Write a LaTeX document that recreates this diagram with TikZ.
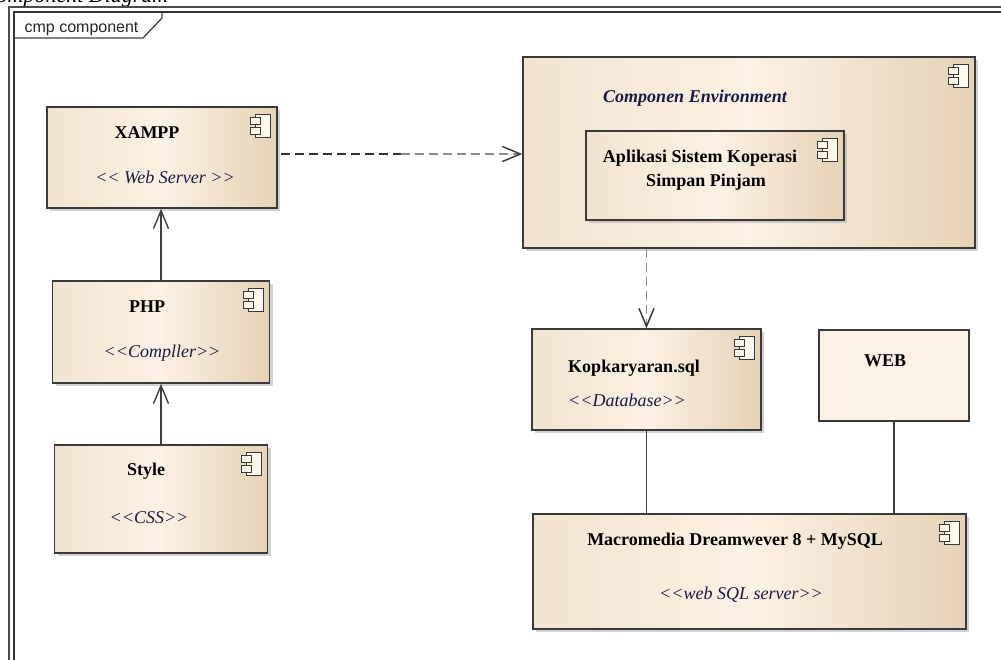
\documentclass[tikz,border=0pt]{standalone}
\usepackage{fontspec}
\setmainfont{Liberation Serif}
\newfontfamily\tabfont{Liberation Sans}
\usetikzlibrary{arrows.meta,shadows}
\definecolor{cmpleft}{HTML}{F1E3CF}
\definecolor{cmpmid}{HTML}{FBF1E4}
\definecolor{cmpright}{HTML}{E6D2B6}
\definecolor{cmpline}{HTML}{3A3A3A}
\definecolor{cmpicon}{HTML}{FFF8EC}
\definecolor{stereo}{HTML}{1A1A44}

\begin{document}
\begin{tikzpicture}[x=1pt,y=-1pt, >={Straight Barb[length=18pt,width=15pt]}, semithick]
  \tikzstyle{component}=[draw=cmpline, line width=1.6pt, left color=cmpleft, right color=cmpright, middle color=cmpmid, drop shadow={shadow xshift=3pt, shadow yshift=-3pt, fill=black!35}, inner sep=0pt]
  \tikzstyle{cmpname}=[anchor=base, font=\fontsize{18}{20}\selectfont\bfseries, text=black]
  \tikzstyle{cmpstereo}=[anchor=base, font=\fontsize{18}{20}\selectfont\itshape, text=stereo]
  \tikzstyle{link}=[draw=black!75, line width=1.4pt]
  \tikzstyle{depend}=[link, dash pattern=on 9pt off 5pt]
  \tikzstyle{icon}=[draw=cmpline, line width=1.2pt, fill=cmpicon]

  \useasboundingbox (0,0) rectangle (1001,659);

  % frame
  \node[anchor=base east, font=\fontsize{22}{24}\selectfont\itshape] (diagtitle) at (172,2.5) {Component Diagram};
  \draw[line width=1.5pt, black!70] (9,7) rectangle (1030,700);
  \draw[line width=1.5pt, black!80] (14,12) rectangle (1025,695);
  \draw[line width=1.3pt, black!75] (162,12) -- (162,18) -- (143,38) -- (14,38);
  \node[anchor=base west, font=\tabfont\fontsize{16}{18}\selectfont, text=black!85] (frametitle) at (21,32) {cmp component};

  % left column
  \node[component, minimum width=230, minimum height=101] (xampp) at (162,157.5) {};
  \node[component, minimum width=217, minimum height=102] (php) at (161,332) {};
  \node[component, minimum width=213, minimum height=108] (style) at (161,499) {};
  \node[cmpname] (xamppname) at (147,138) {XAMPP};
  \node[cmpstereo] (xamppst) at (165,183) {<{}< Web Server >{}>};
  \node[cmpname] (phpname) at (147,312) {PHP};
  \node[cmpstereo] (phpst) at (162,357) {<{}<Compller>{}>};
  \node[cmpname] (stylename) at (146,475) {Style};
  \node[cmpstereo] (stylest) at (149,523) {<{}<CSS>{}>};

  % right side
  \node[component, minimum width=452, minimum height=191] (env) at (749,152.5) {};
  \node[component, minimum width=258, minimum height=89] (app) at (715,175.5) {};
  \node[component, minimum width=229, minimum height=101] (kop) at (646.5,379.5) {};
  \node[draw=cmpline, line width=1.6pt, fill=cmpmid, minimum width=150, minimum height=91, inner sep=0pt] (web) at (894,375.5) {};
  \node[component, minimum width=433, minimum height=115] (mac) at (749.5,571.5) {};
  \node[anchor=base, font=\fontsize{18}{20}\selectfont\bfseries\itshape, text=stereo] (envname) at (695,102) {Componen Environment};
  \node[cmpname] (appname) at (700,162) {Aplikasi Sistem Koperasi};
  \node[cmpname] (appname2) at (706,186) {Simpan Pinjam};
  \node[cmpname] (kopname) at (634,372) {Kopkaryaran.sql};
  \node[cmpstereo] (kopst) at (627,406) {<{}<Database>{}>};
  \node[cmpname] (webname) at (885,366) {WEB};
  \node[cmpname] (macname) at (735,545) {Macromedia Dreamwever 8 + MySQL};
  \node[cmpstereo] (macst) at (741,599) {<{}<web SQL server>{}>};

  % component icons
  \foreach \n in {xampp,php,style,env,app,kop,mac}{
    \draw[icon] ([shift={(-22,8)}]\n.north east) rectangle ++(15,23);
    \draw[icon] ([shift={(-27,11)}]\n.north east) rectangle ++(10,7);
    \draw[icon] ([shift={(-27,21)}]\n.north east) rectangle ++(10,7);
  }

  % connectors
  \draw[link, ->] (php.north) -- (php.north |- xampp.south);
  \draw[link, ->] (style.north) -- (style.north |- php.south);
  \path ([yshift=3.5pt]xampp.east) ++(123,0) coordinate (bend);
  \draw[depend, draw=black!80] ([shift={(3,0)},yshift=3.5pt]xampp.east) -- (bend);
  \draw[depend, draw=black!45, -{Straight Barb[length=18pt,width=15pt,color=black!80]}] (bend) -- (bend -| env.west);
  \draw[depend, draw=black!45, -{Straight Barb[length=18pt,width=15pt,color=black!80]}] (env.south -| kop.north) -- (kop.north);
  \draw[link] (kop.south) -- (kop.south |- mac.north);
  \draw[link] (web.south) -- (web.south |- mac.north);
\end{tikzpicture}
\end{document}
